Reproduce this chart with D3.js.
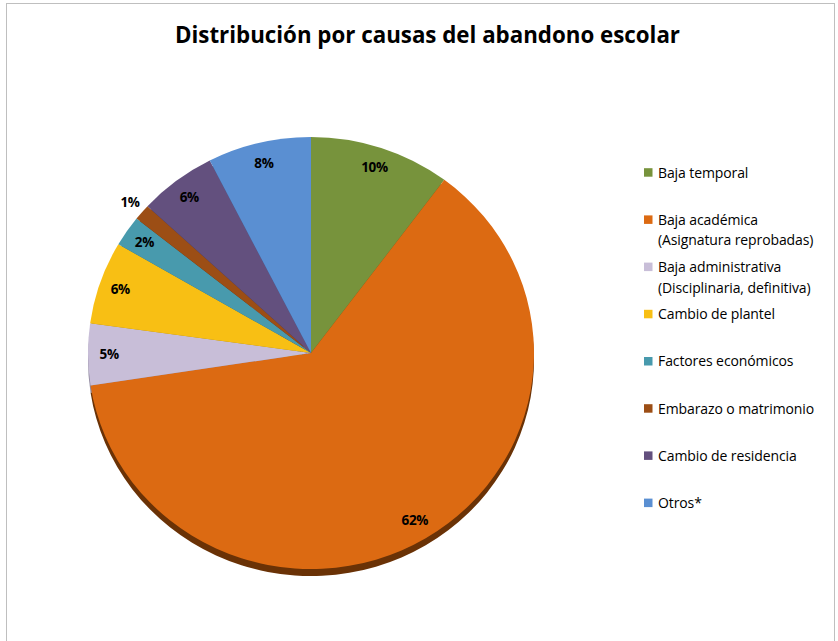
<!DOCTYPE html>
<html>
<head>
<meta charset="utf-8">
<script src="https://cdn.jsdelivr.net/npm/d3@7/dist/d3.min.js"></script>
<style>
  html, body { margin: 0; padding: 0; background: #ffffff; }
  svg { display: block; }
</style>
</head>
<body>
<svg id="chart" width="838" height="641"></svg>
<script>
// ---- data ----
const title = "Distribución por causas del abandono escolar";
const categories = [
  "Baja temporal",
  "Baja académica (Asignatura reprobadas)",
  "Baja administrativa (Disciplinaria, definitiva)",
  "Cambio de plantel",
  "Factores económicos",
  "Embarazo o matrimonio",
  "Cambio de residencia",
  "Otros*"
];
const legendLines = [
  ["Baja temporal"],
  ["Baja académica", "(Asignatura reprobadas)"],
  ["Baja administrativa", "(Disciplinaria, definitiva)"],
  ["Cambio de plantel"],
  ["Factores económicos"],
  ["Embarazo o matrimonio"],
  ["Cambio de residencia"],
  ["Otros*"]
];
const values = [10.2, 62.4, 4.6, 6.2, 2.3, 1.2, 5.6, 7.5];
const colors = ["#77933C", "#DC6A12", "#C8BED8", "#F8BF14", "#489AAD", "#9C4E15", "#63507E", "#5A8FD2"];
const sideColors = ["#4A5E22", "#6A3206", "#8E879D", "#A98008", "#2D6674", "#5E2E0A", "#3E314F", "#3A5F8E"];

// ---- layout ----
const svg = d3.select("#chart");
const cx = 311, cy = 353, rx = 223, ry = 216, depth = 7;

// frame
svg.append("rect")
  .attr("x", 6.5).attr("y", 3.5)
  .attr("width", 828).attr("height", 700)
  .attr("fill", "#ffffff")
  .attr("stroke", "#bfbfbf").attr("stroke-width", 1);

// title
svg.append("text")
  .attr("x", 427.5).attr("y", 43)
  .attr("text-anchor", "middle")
  .attr("font-family", "'Open Sans', 'Noto Sans', sans-serif")
  .attr("font-weight", "bold")
  .attr("font-size", 24)
  .attr("textLength", 505)
  .attr("lengthAdjust", "spacingAndGlyphs")
  .attr("fill", "#000")
  .text(title);

const pie = d3.pie().sort(null).value(d => d);
const arcs = pie(values);
const arcGen = d3.arc().innerRadius(0).outerRadius(rx);
const sy = ry / rx;

// side (3D depth)
const sideG = svg.append("g").attr("transform", `translate(${cx},${cy + depth}) scale(1,${sy})`);
sideG.selectAll("path").data(arcs).join("path")
  .attr("d", arcGen)
  .attr("fill", (d, i) => sideColors[i]);

// top face
const faceG = svg.append("g").attr("transform", `translate(${cx},${cy}) scale(1,${sy})`);
faceG.selectAll("path").data(arcs).join("path")
  .attr("d", arcGen)
  .attr("fill", (d, i) => colors[i]);

// data labels
const total = d3.sum(values);
const labelFactor = d => (d.value / total < 0.02 ? 1.07 : 0.905);
svg.append("g").selectAll("text").data(arcs).join("text")
  .attr("x", d => cx + Math.sin((d.startAngle + d.endAngle) / 2) * rx * labelFactor(d))
  .attr("y", d => cy - Math.cos((d.startAngle + d.endAngle) / 2) * ry * labelFactor(d))
  .attr("dy", "0.35em")
  .attr("text-anchor", "middle")
  .attr("font-family", "'Open Sans', 'Noto Sans', sans-serif")
  .attr("font-weight", "bold")
  .attr("font-size", 13.5)
  .attr("letter-spacing", -0.3)
  .attr("fill", "#000")
  .text(d => Math.round(d.value / total * 100) + "%");

// legend
const legend = svg.append("g");
const lx = 644, ly0 = 172.7, lstep = 47.2;
legendLines.forEach((lines, i) => {
  const y = ly0 + i * lstep;
  legend.append("rect")
    .attr("x", lx).attr("y", y - 4.5)
    .attr("width", 8.5).attr("height", 8.5)
    .attr("fill", colors[i]);
  lines.forEach((t, j) => {
    legend.append("text")
      .attr("x", lx + 14).attr("y", y + j * 20.5)
      .attr("dy", "0.35em")
      .attr("font-family", "'Open Sans', 'Noto Sans', sans-serif")
      .attr("font-size", 14)
      .attr("letter-spacing", -0.1)
      .attr("fill", "#000")
      .text(t);
  });
});
</script>
</body>
</html>
